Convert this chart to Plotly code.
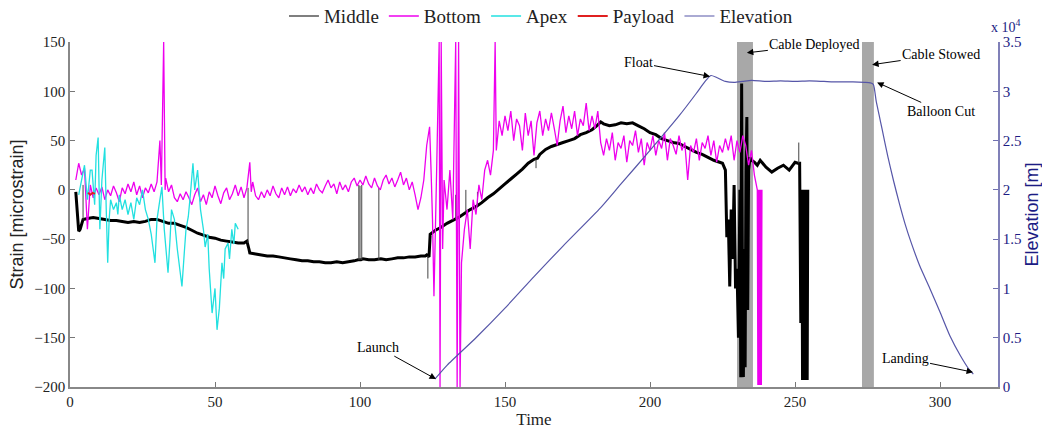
import plotly.graph_objects as go

# ---------------- data ----------------
middle_t = [2, 2.5, 3, 3.5, 4.5, 6, 8, 10, 12, 14, 16, 18, 20, 22, 24, 26, 28, 30, 32, 34, 36, 38, 40,
            42, 44, 46, 48, 50, 52, 54, 56, 58, 60, 61, 61.7, 62, 64, 66, 68, 70, 72, 74, 76, 78, 80,
            82, 84, 86, 88, 90, 92, 94, 96, 98, 99.3, 100.3, 101, 103, 105, 107.2, 109, 111, 113, 115, 117,
            119, 121, 122.5, 123, 123.8, 124.2, 126, 128, 130, 132, 134, 136, 138, 140, 142, 144, 146, 148,
            150, 152, 154, 156, 158, 160, 161.2, 162, 164, 166, 168, 170, 172, 174, 176, 178, 180, 182, 183,
            184, 186, 188, 190, 192, 194, 196, 198, 200, 202, 204, 206, 208, 210, 212, 214, 216, 218, 220, 222,
            224, 225, 226, 226.5, 227, 227.5, 228, 228.5, 229, 229.5, 230, 230.5, 231, 231.3, 231.6, 231.9,
            232.2, 232.5, 232.8, 233.1, 233.4, 233.7, 234, 234.5, 235, 236, 237, 238, 240, 242, 244, 246, 248,
            250, 251, 251.6, 252, 252.4, 252.6, 252.8, 253, 253.2, 253.4, 253.6, 253.8, 254.0, 254.2, 254.4]
middle_v = [-2, -22, -42, -40, -30, -29, -28, -29, -30, -31, -31, -32, -33, -32, -33, -32, -30, -30, -32, -34,
            -34, -36, -38, -41, -44, -46, -48, -49, -51, -52, -53, -54, -54, -52, -60, -64, -65, -66, -67,
            -67, -68, -69, -70, -71, -72, -72, -73, -73, -74, -74, -73, -74, -73, -72, -71, -71, -70, -71,
            -71, -70, -71, -70, -69, -69, -68, -68, -67, -67, -66, -68, -45, -41, -38, -34, -31, -28, -24,
            -20, -17, -13, -8, -4, 1, 6, 11, 16, 21, 27, 31, 32, 36, 41, 44, 46, 48, 50, 52, 56, 58, 61, 66,
            69, 67, 65, 66, 68, 67, 68, 65, 62, 58, 56, 52, 50, 48, 47, 44, 41, 38, 36, 33, 30, 28, 27, 20,
            -48, -30, -98, -20, -70, 5, -100, -80, -150, 0, -190, 108, -120, -190, -60, -180, 20, 74, -122, 20,
            33, 30, 28, 25, 30, 23, 18, 22, 25, 20, 28, 27, 27, -135, 0, -193, 0, -193, 0, -193, 0, -193, 0,
            -193, 0, -193]

# thin spikes of the Middle gauge: (time, base value, tip value)
spike_t = [4.5, 61.4, 99.6, 100.0, 100.6, 106.5, 123.4, 133.0, 136.5, 140.5, 160.7, 251.3]
spike_base = [-30, -54, -71, -71, -71, -71, -67, -30, -23, -16, 31, 27]
spike_tip = [5, 2, 5, 4, 5, 2, -90, -5, 0, -2, 22, 48]

bottom_t = [2, 3, 4, 5, 6, 7, 8, 9, 10, 11, 12, 13, 14, 15, 16, 17, 18, 19, 20, 21, 22, 23, 24, 25, 26, 27, 28,
            29, 30, 31, 31.5, 32.3, 32.8, 33, 34, 35, 36, 37, 38, 39, 40, 41, 42, 43, 44, 45, 46, 47, 48, 49, 50,
            51, 52, 53, 54, 55, 56, 57, 58, 59, 60, 61, 62, 62.5, 63, 64, 65, 66, 67, 68, 69, 70, 71, 72, 73, 74,
            75, 76, 77, 78, 79, 80, 81, 82, 83, 84, 85, 86, 87, 88, 89, 90, 91, 92, 93, 94, 95, 96, 97, 98, 99,
            100, 101, 102, 103, 104, 105, 106, 107, 108, 109, 110, 111, 112, 113, 114, 115, 116, 117, 118, 119,
            120, 121, 122, 123, 124, 124.5, 125, 125.5, 126, 126.5, 127.3, 127.6, 128, 128.5, 129, 130, 131,
            132, 133, 133.5, 134, 134.5, 135, 136, 137, 138, 139, 140, 141, 142, 143, 144, 145, 146, 146.6, 147,
            148, 149, 150, 151, 152, 153, 154, 155, 156, 157, 158, 159, 160, 161, 162, 163, 164, 165, 166, 167,
            168, 169, 170, 171, 172, 173, 174, 175, 176, 177, 178, 179, 180, 181, 182, 183, 184, 185, 186, 187,
            188, 189, 190, 191, 192, 193, 194, 195, 196, 197, 198, 199, 200, 201, 202, 203, 204, 205, 206, 207,
            208, 209, 210, 211, 212, 213, 214, 215, 216, 217, 218, 219, 220, 221, 222, 223, 224, 225, 226, 227,
            228, 229, 230, 231, 232, 233, 234, 235, 236, 237, 237.2, 237.4, 237.6, 237.8, 238.0, 238.2, 238.4,
            238.6]
bottom_v = [10, 27, 15, 22, -40, 5, -8, 2, -5, 3, -10, 0, -6, 4, -3, -12, 2, -4, 6, -2, 8, -5, 4, -8, 2, -3, 6,
            -2, 8, 50, 5, 150, 0, 12, -2, 5, -8, -12, -4, -10, -2, -8, -15, -5, 2, -12, -5, -15, -2, -8, 4, -6,
            -14, -3, 2, -10, -4, 5, -6, 3, -8, 2, 28, -2, 8, -6, -10, -2, -8, 0, -6, 4, -4, -8, 2, -5, 3, -6, 1,
            -3, 5, -2, 3, -5, 2, -4, 6, 0, -3, 4, 10, 2, 6, -4, 8, 0, 5, -2, 8, 12, 4, 10, 5, 14, 6, 2, 12, 4, 0,
            10, 15, 6, 12, 3, 10, 18, 5, 12, 0, 8, -5, -20, -8, 10, 45, 64, 20, -30, -108, -40, 30, 150, -200,
            150, -60, 10, -20, 20, -30, 150, -200, 150, -200, -74, -40, -20, -60, -10, -25, 5, -10, 20, 30, 15,
            40, 150, 40, 70, 55, 75, 60, 80, 50, 72, 65, 40, 78, 55, 70, 35, 68, 80, 55, 72, 60, 78, 62, 45, 70,
            85, 58, 75, 62, 80, 55, 72, 65, 88, 60, 75, 62, 80, 48, 35, 52, 40, 58, 30, 48, 42, 55, 28, 50, 45,
            60, 38, 52, 25, 48, 40, 55, 35, 50, 42, 58, 30, 52, 45, 36, 55, 40, 48, 10, 45, 38, 52, 30, 48, 42,
            55, 35, 50, 28, 45, 38, 52, 40, 55, 30, 50, 38, 55, 45, 25, 40, 15, 0, -198, 0, -198, 0, -198, 0,
            -198, 0]

apex_t = [3, 4, 5, 6, 7, 7.6, 8.5, 9, 9.7, 10.3, 11, 12, 12.5, 13, 13.5, 14, 15, 16, 16.5, 17, 18, 19, 20, 21,
          22, 23, 24, 25, 26, 27, 28, 29.3, 30, 31, 31.7, 32.5, 33.8, 34.5, 35, 36, 37, 38.6, 39.5, 40, 40.8,
          41.5, 42.4, 43, 44, 45, 46, 46.6, 47.5, 48, 49, 50, 50.7, 51.5, 52.4, 53, 53.5, 54.5, 55, 55.8, 56.5,
          57, 58]
apex_v = [-5, 10, 25, -10, 20, 20, -15, 35, 53, -40, 10, 43, -20, -74, -30, -10, -20, -13, -25, -5, -20, -10,
          -25, -13, -30, -8, -15, 0, -20, -30, -45, -74, -30, -10, 3, -40, -84, -50, -20, -30, -60, -98, -60,
          -40, -27, -5, 27, 0, 20, -20, -40, -58, -45, -80, -125, -100, -142, -120, -74, -90, -60, -54, -70,
          -40, -55, -34, -40]

payload_t = [6.2, 7.0, 7.8, 8.6]
payload_v = [-3, -5, -3, -4]

elev_t = [125.8, 130, 140, 150, 160, 170, 183, 190, 200, 210, 216, 219, 221, 223, 226, 229, 232, 235, 240, 245,
          250, 255, 260, 265, 270, 274, 276, 277, 278, 279, 280, 282, 284, 286, 288, 290, 293, 296.5, 300,
          303.4, 307, 310, 311.5]
elev_v = [800, 2200, 5000, 8000, 11200, 14300, 18200, 20600, 24000, 27500, 29800, 31000, 31600, 31400, 31000,
          30900, 31000, 31100, 31000, 31050, 31000, 31050, 31000, 30950, 30950, 30900, 30850, 30700, 29000,
          27600, 26200, 23400, 20900, 18600, 16500, 14700, 12300, 10000, 7600, 5200, 3200, 1800, 1300]

bands = [(230.0, 235.5), (273.1, 277.2)]

# annotations: (label, time, elevation at arrow tip, text offset x px, offset y px)
events = [("Launch", 126.2, 800, -58, -32),
          ("Float", 220.7, 31500, -72, -14),
          ("Cable Deployed", 233.4, 33900, 68, -8),
          ("Cable Stowed", 276.6, 32700, 69, -10),
          ("Balloon Cut", 278.3, 30900, 64, 29),
          ("Landing", 311.4, 1500, -68, -14)]

left_ticks = [-200, -150, -100, -50, 0, 50, 100, 150]
right_tickvals = [0, 5000, 10000, 15000, 20000, 25000, 30000, 35000]
right_ticktext = ["0", "0.5", "1", "1.5", "2", "2.5", "3", "3.5"]
x_ticks = [0, 50, 100, 150, 200, 250, 300]

# ---------------- figure ----------------
SERIF = "Liberation Serif, Times New Roman, serif"
SANS = "Liberation Sans, Arial, sans-serif"
NAVY = "#1c1c84"

# build spike segments from the spike lists
sx, sy = [], []
for t, b, tip in zip(spike_t, spike_base, spike_tip):
    sx += [t, t, None]
    sy += [b, tip, None]

fig = go.Figure()
fig.add_trace(go.Scatter(x=middle_t, y=middle_v, mode="lines", name="Middle", showlegend=False,
                         line=dict(color="black", width=3, simplify=False)))
fig.add_trace(go.Scatter(x=sx, y=sy, mode="lines", showlegend=False, connectgaps=False,
                         line=dict(color="#444", width=1)))
# legend proxy for Middle drawn with a thin line, as in the original
fig.add_trace(go.Scatter(x=[None], y=[None], mode="lines", name="Middle",
                         line=dict(color="black", width=1.2)))
fig.add_trace(go.Scatter(x=bottom_t, y=bottom_v, mode="lines", name="Bottom",
                         line=dict(color="#ee00ee", width=1.3, simplify=False)))
fig.add_trace(go.Scatter(x=apex_t, y=apex_v, mode="lines", name="Apex",
                         line=dict(color="#22e0e0", width=1.3, simplify=False)))
fig.add_trace(go.Scatter(x=payload_t, y=payload_v, mode="lines", name="Payload",
                         line=dict(color="#e02020", width=2)))
fig.add_trace(go.Scatter(x=elev_t, y=elev_v, mode="lines", name="Elevation", yaxis="y2",
                         line=dict(color="#5656a8", width=1.2, shape="spline", smoothing=0.6)))

for x0, x1 in bands:
    fig.add_shape(type="rect", xref="x", yref="paper", x0=x0, x1=x1, y0=0, y1=1,
                  fillcolor="#a8a8a8", line=dict(width=0), layer="below")

for label, t, e, ax, ay in events:
    fig.add_annotation(x=t, y=e, xref="x", yref="y2", text=label, showarrow=True,
                       ax=ax, ay=ay, arrowhead=2, arrowsize=1.3, arrowwidth=1, arrowcolor="black",
                       font=dict(family=SERIF, size=14, color="black"))

fig.add_annotation(x=0.99, y=1.045, xref="paper", yref="paper", text="x 10<sup>4</sup>",
                   showarrow=False, xanchor="left", yanchor="middle",
                   font=dict(family=SERIF, size=14, color=NAVY))

fig.update_layout(
    width=1042, height=429,
    template="none",
    margin=dict(l=70, r=44, t=42, b=42, autoexpand=False),
    plot_bgcolor="white", paper_bgcolor="white",
    showlegend=True,
    legend=dict(orientation="h", x=0.5075, xanchor="center", y=1.075, yanchor="middle",
                font=dict(family=SERIF, size=19, color="#222"), bgcolor="rgba(0,0,0,0)",
                itemwidth=30, tracegroupgap=0, borderwidth=0, traceorder="normal"),
    xaxis=dict(range=[0, 320], tickvals=x_ticks, ticks="inside", ticklen=5, tickcolor="#777",
               showline=True, linecolor="#888", linewidth=1.5, showgrid=False, zeroline=False,
               automargin=False,
               tickfont=dict(family=SERIF, size=15, color="#222"),
               title=dict(text="Time", font=dict(family=SERIF, size=17, color="#222"), standoff=4)),
    yaxis=dict(range=[-200, 150], tickvals=left_ticks, ticks="inside", ticklen=5, tickcolor="#777",
               showline=True, linecolor="#888", linewidth=1.5, showgrid=False, zeroline=False,
               automargin=False,
               tickfont=dict(family=SERIF, size=15, color="#222"),
               title=dict(text="Strain [microstrain]", font=dict(family=SANS, size=18, color="#222"),
                          standoff=6)),
    yaxis2=dict(range=[0, 35000], tickvals=right_tickvals, ticktext=right_ticktext, overlaying="y",
                side="right", anchor="x", ticks="inside", ticklen=5, tickcolor="#7070b0",
                showline=True, linecolor="#8080b8", linewidth=1.5, showgrid=False, zeroline=False,
                automargin=False,
                tickfont=dict(family=SERIF, size=15, color=NAVY),
                title=dict(text="Elevation [m]", font=dict(family=SANS, size=18, color=NAVY), standoff=6)),
)

fig.write_html("out.html")
